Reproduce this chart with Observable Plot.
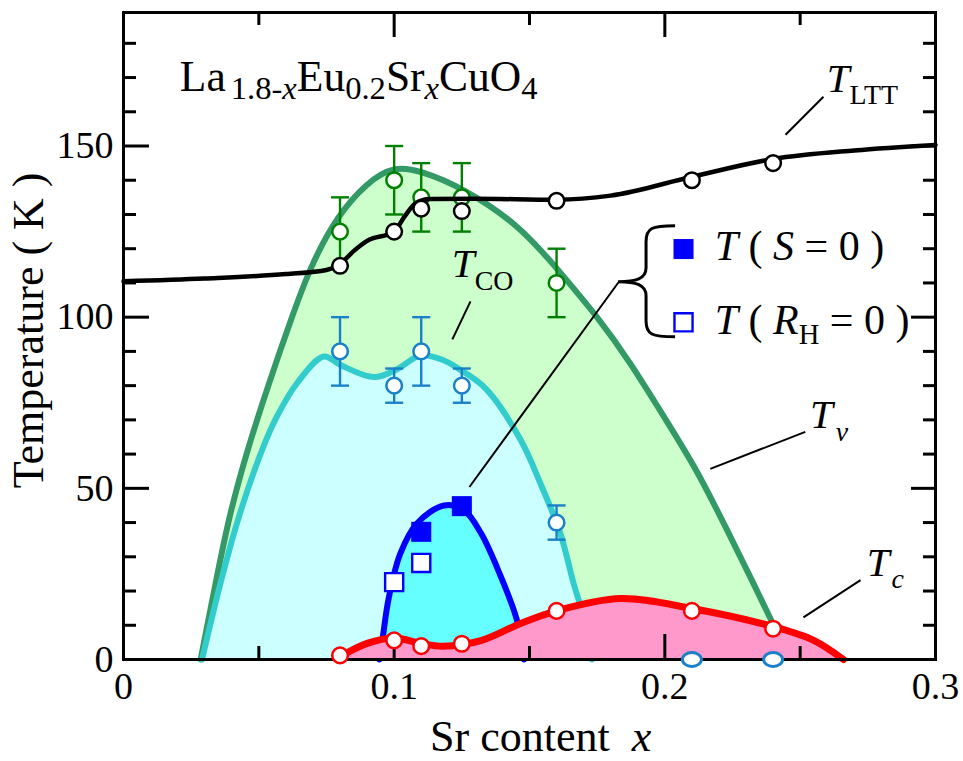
<!DOCTYPE html>
<html><head><meta charset="utf-8">
<script src="https://cdn.jsdelivr.net/npm/d3@7"></script>
<script src="https://cdn.jsdelivr.net/npm/@observablehq/plot@0.6"></script>
<style>body{margin:0;background:#fff;} svg{display:block}</style>
</head><body><div id="chart"></div>
<script>
// ---------- data ----------
// T_LTT (black open circles + black curve)
const lttX = [0.08, 0.10, 0.11, 0.125, 0.16, 0.21, 0.24];
const lttT = [115, 125, 131.7, 131, 134, 140, 145];
const lttCurveX = [0, 0.03, 0.06, 0.075, 0.08, 0.085, 0.09, 0.1, 0.104, 0.108, 0.113, 0.13, 0.16, 0.18, 0.21, 0.24, 0.27, 0.3];
const lttCurveT = [110.5, 111.3, 112.6, 113.8, 115.5, 119.3, 122.3, 125, 129.6, 133.3, 134.5, 134.6, 134.3, 135.5, 141, 146.2, 148.7, 150.3];

// T_nu (green open circles with error bars + dark green dome)
const nuX = [0.08, 0.10, 0.11, 0.125, 0.16];
const nuT = [125, 140, 135, 135, 110];
const nuErr = [10, 10, 10, 10, 10];
const nuCurveX = [0.0285, 0.034, 0.0389, 0.0457, 0.0537, 0.0623, 0.0691, 0.0789, 0.090, 0.1, 0.1097, 0.125, 0.1467, 0.1614, 0.175, 0.1873, 0.1996, 0.2119, 0.223, 0.2328, 0.2405];
const nuCurveT = [0, 22.2, 41.6, 61.2, 80.7, 100.3, 114.9, 129.6, 139.4, 144.2, 142.8, 138, 126.7, 113, 100.3, 86.7, 71, 55.4, 37.8, 22.2, 9.5];

// T_CO (blue open circles with error bars + turquoise dome)
const coX = [0.08, 0.10, 0.11, 0.125, 0.16];
const coT = [90, 80, 90, 80, 40];
const coErr = [10, 5, 10, 5, 5];
const coCurveX = [0.029, 0.0358, 0.0426, 0.0512, 0.0567, 0.0641, 0.074, 0.0802, 0.0925, 0.1011, 0.1097, 0.118, 0.1245, 0.134, 0.1467, 0.154, 0.1614, 0.1663, 0.170, 0.1731];
const coCurveT = [0, 22.2, 41.6, 61.2, 71, 80.7, 88.5, 86, 82.5, 84.8, 88.8, 87.5, 84.6, 79, 64.2, 51.5, 36.8, 22.2, 12.4, 0];

// T(S=0) filled squares, T(R_H=0) open squares, blue dome
const s0X = [0.11, 0.125];
const s0T = [37.3, 44.8];
const rh0X = [0.10, 0.11];
const rh0T = [22.6, 28.2];
const sCurveX = [0.0945, 0.0958, 0.098, 0.1023, 0.1085, 0.1184, 0.1257, 0.132, 0.139, 0.1454, 0.148];
const sCurveT = [0, 6.5, 18, 31, 39.8, 45, 43.7, 37, 25, 11.4, 0];

// T_c (red open circles + red curve), zero-Tc points (blue open ovals)
const tcX = [0.08, 0.10, 0.11, 0.125, 0.16, 0.21, 0.24];
const tcT = [1.2, 5.6, 3.9, 4.6, 14.2, 14.2, 9.0];
const tc0X = [0.21, 0.24];
const tc0T = [0, 0];
const tcCurveX = [0.08, 0.09, 0.1, 0.11, 0.118, 0.132, 0.1467, 0.16, 0.1836, 0.21, 0.24, 0.255, 0.266];
const tcCurveT = [0.8, 4.7, 6.3, 4.7, 3.9, 5.5, 10.5, 14.2, 17.8, 14.9, 9.6, 5.6, 0];

// axes
const xMajor = [0, 0.1, 0.2, 0.3];
const xMinor = [0.05, 0.15, 0.25];
const yMajor = [0, 50, 100, 150];
const yMinor = [10, 20, 30, 40, 60, 70, 80, 90, 110, 120, 130, 140, 160, 170, 180];
const xTickLabels = ["0", "0.1", "0.2", "0.3"];
const yTickLabels = ["0", "50", "100", "150"];

// ---------- helpers ----------
const zip = (xs, ys, extra = {}) => xs.map((x, i) => {
  const o = {x, y: ys[i]};
  for (const k in extra) o[k] = extra[k][i];
  return o;
});
const lttPts = zip(lttX, lttT), lttLine = zip(lttCurveX, lttCurveT);
const nuPts = zip(nuX, nuT, {e: nuErr}), nuLine = zip(nuCurveX, nuCurveT);
const coPts = zip(coX, coT, {e: coErr}), coLine = zip(coCurveX, coCurveT);
const s0Pts = zip(s0X, s0T), rh0Pts = zip(rh0X, rh0T), sLine = zip(sCurveX, sCurveT);
const tcPts = zip(tcX, tcT), tc0Pts = zip(tc0X, tc0T), tcLine = zip(tcCurveX, tcCurveT);
const xLab = xMajor.map((v, i) => ({v, t: xTickLabels[i]}));
const yLab = yMajor.map((v, i) => ({v, t: yTickLabels[i]}));

const capSymbol = {draw(ctx, size) { const w = Math.sqrt(size / Math.PI); ctx.moveTo(-w, 0); ctx.lineTo(w, 0); }};
const ovalSymbol = {draw(ctx, size) {
  const r = Math.sqrt(size / Math.PI), rx = r * 1.3, ry = r * 0.95, k = 0.5523;
  ctx.moveTo(rx, 0);
  ctx.bezierCurveTo(rx, ry * k, rx * k, ry, 0, ry);
  ctx.bezierCurveTo(-rx * k, ry, -rx, ry * k, -rx, 0);
  ctx.bezierCurveTo(-rx, -ry * k, -rx * k, -ry, 0, -ry);
  ctx.bezierCurveTo(rx * k, -ry, rx, -ry * k, rx, 0);
  ctx.closePath();
}};

const FONT = "Liberation Serif, Times New Roman, serif";
const frameH = 761 - 12 - 102, frameW = 963 - 123 - 28;

const leaders = [
  {x1: 0.2586, y1: 164.4, x2: 0.2446, y2: 153.3},   // T_LTT
  {x1: 0.1282, y1: 104.6, x2: 0.1215, y2: 93.5},    // T_CO
  {x1: 0.2519, y1: 66.5,  x2: 0.2168, y2: 55.7},    // T_nu
  {x1: 0.2723, y1: 23.2,  x2: 0.2512, y2: 12.3},    // T_c
  {x1: 0.1829, y1: 110.2, x2: 0.1278, y2: 50.4}     // legend brace
];
const legendS0 = [{x: 0.2069, y: 119.9}];
const legendRH = [{x: 0.2069, y: 98.5}];

const dotStyle = {r: 7.8, fill: "white", strokeWidth: 2.5};
const CO_BLUE = "#1a80c8";

const plot = Plot.plot({
  width: 963, height: 761,
  marginLeft: 123, marginRight: 28, marginTop: 12, marginBottom: 102,
  x: {domain: [0, 0.3], axis: null},
  y: {domain: [0, 189], axis: null},
  style: {fontFamily: FONT, fontSize: "38px", background: "white", color: "black"},
  marks: [
    Plot.areaY(nuLine, {x: "x", y: "y", fill: "#ccffcc", curve: "basis"}),
    Plot.line(nuLine, {x: "x", y: "y", stroke: "#339966", strokeWidth: 6, curve: "basis"}),
    Plot.areaY(coLine, {x: "x", y: "y", fill: "#ccffff", curve: "catmull-rom"}),
    Plot.line(coLine, {x: "x", y: "y", stroke: "#33cccc", strokeWidth: 6, curve: "catmull-rom"}),
    Plot.areaY(sLine, {x: "x", y: "y", fill: "#66ffff", curve: "catmull-rom"}),
    Plot.line(sLine, {x: "x", y: "y", stroke: "#0000ff", strokeWidth: 6, curve: "catmull-rom"}),
    Plot.areaY(tcLine, {x: "x", y: "y", fill: "#ff99cc", curve: "catmull-rom"}),
    Plot.line(tcLine, {x: "x", y: "y", stroke: "#ff0000", strokeWidth: 7, curve: "catmull-rom"}),
    // axes ticks (inward)
    Plot.tickX(xMajor, {x: d => d, insetTop: frameH - 25, stroke: "black", strokeWidth: 3}),
    Plot.tickX(xMajor, {x: d => d, insetBottom: frameH - 25, stroke: "black", strokeWidth: 3}),
    Plot.tickX(xMinor, {x: d => d, insetTop: frameH - 13, stroke: "black", strokeWidth: 3}),
    Plot.tickX(xMinor, {x: d => d, insetBottom: frameH - 13, stroke: "black", strokeWidth: 3}),
    Plot.tickY(yMajor, {y: d => d, insetRight: frameW - 26, stroke: "black", strokeWidth: 3}),
    Plot.tickY(yMajor, {y: d => d, insetLeft: frameW - 24, stroke: "black", strokeWidth: 3}),
    Plot.tickY(yMinor, {y: d => d, insetRight: frameW - 13, stroke: "black", strokeWidth: 3}),
    Plot.tickY(yMinor, {y: d => d, insetLeft: frameW - 12, stroke: "black", strokeWidth: 3}),
    // tick labels
    Plot.text(xLab, {x: "v", frameAnchor: "bottom", text: "t", lineAnchor: "top", dy: 13, fontSize: 38, fontFamily: FONT, fill: "black"}),
    Plot.text(yLab, {y: "v", frameAnchor: "left", text: "t", textAnchor: "end", dx: -10, fontSize: 38, fontFamily: FONT, fill: "black"}),
    Plot.frame({stroke: "black", strokeWidth: 3}),
    // leader lines
    Plot.link(leaders, {x1: "x1", y1: "y1", x2: "x2", y2: "y2", stroke: "black", strokeWidth: 2}),
    // T_nu points with error bars
    Plot.ruleX(nuPts, {x: "x", y1: d => d.y - d.e, y2: d => d.y + d.e, stroke: "#008000", strokeWidth: 2.4}),
    Plot.dot(nuPts, {x: "x", y: d => d.y - d.e, symbol: capSymbol, r: 9, stroke: "#008000", strokeWidth: 2.4, fill: "none"}),
    Plot.dot(nuPts, {x: "x", y: d => d.y + d.e, symbol: capSymbol, r: 9, stroke: "#008000", strokeWidth: 2.4, fill: "none"}),
    Plot.dot(nuPts, {x: "x", y: "y", ...dotStyle, stroke: "#008000"}),
    // T_CO points with error bars
    Plot.ruleX(coPts, {x: "x", y1: d => d.y - d.e, y2: d => d.y + d.e, stroke: CO_BLUE, strokeWidth: 2.4}),
    Plot.dot(coPts, {x: "x", y: d => d.y - d.e, symbol: capSymbol, r: 9, stroke: CO_BLUE, strokeWidth: 2.4, fill: "none"}),
    Plot.dot(coPts, {x: "x", y: d => d.y + d.e, symbol: capSymbol, r: 9, stroke: CO_BLUE, strokeWidth: 2.4, fill: "none"}),
    Plot.dot(coPts, {x: "x", y: "y", ...dotStyle, stroke: CO_BLUE}),
    // T_LTT
    Plot.line(lttLine, {x: "x", y: "y", stroke: "black", strokeWidth: 4.5, curve: "monotone-x"}),
    Plot.dot(lttPts, {x: "x", y: "y", ...dotStyle, stroke: "black"}),
    // T(S=0), T(R_H=0)
    Plot.dot(s0Pts, {x: "x", y: "y", symbol: "square", r: 11.3, fill: "#0000ff", stroke: "none"}),
    Plot.dot(rh0Pts, {x: "x", y: "y", symbol: "square", r: 10.2, fill: "white", stroke: "#0000ff", strokeWidth: 2.4}),
    Plot.dot(legendS0, {x: "x", y: "y", symbol: "square", r: 11.3, fill: "#0000ff", stroke: "none"}),
    Plot.dot(legendRH, {x: "x", y: "y", symbol: "square", r: 10.2, fill: "white", stroke: "#0000ff", strokeWidth: 2.4}),
    // T_c
    Plot.dot(tcPts, {x: "x", y: "y", ...dotStyle, stroke: "#ff0000"}),
    Plot.dot(tc0Pts, {x: "x", y: "y", symbol: ovalSymbol, r: 7.3, fill: "white", stroke: CO_BLUE, strokeWidth: 3})
  ]
});

const svg = d3.select(plot);
const X = plot.scale("x"), Y = plot.scale("y");
const px = v => X.apply(v), py = v => Y.apply(v);

function label(xd, yd, parts, size, opt = {}) {
  const subScale = opt.subScale ?? 0.68, subDy = opt.subDy ?? 0.3 * size;
  const t = svg.append("text")
    .attr("x", px(xd)).attr("y", py(yd))
    .attr("font-family", FONT).attr("font-size", size).attr("fill", "black")
    .attr("text-anchor", opt.anchor || "start").style("white-space", "pre");
  let shift = 0;
  for (const p of parts) {
    const ts = t.append("tspan").text(p.t);
    if (p.i) ts.attr("font-style", "italic");
    const target = p.sub ? subDy : 0;
    if (target !== shift) { ts.attr("dy", target - shift); shift = target; }
    if (p.sub) ts.attr("font-size", size * subScale);
    if (p.dx) ts.attr("dx", p.dx);
  }
  return t;
}

// compound title
label(0.021, 165.9, [
  {t: "La"}, {t: "1.8-", sub: true, dx: 5}, {t: "x", sub: true, i: true},
  {t: "Eu"}, {t: "0.2", sub: true}, {t: "Sr"}, {t: "x", sub: true, i: true},
  {t: "CuO"}, {t: "4", sub: true}
], 43.5, {subScale: 0.75, subDy: 8});

// curve labels
label(0.2600, 165.5, [{t: "T", i: true}, {t: "LTT", sub: true}], 41, {subDy: 12});
label(0.1215, 111.5, [{t: "T", i: true}, {t: "CO", sub: true}], 41, {subDy: 13});
label(0.2538, 67.5, [{t: "T", i: true}, {t: "ν", sub: true, i: true, dx: 3}], 41, {subDy: 13});
label(0.2748, 24.2, [{t: "T", i: true}, {t: "c", sub: true, i: true, dx: 2}], 41, {subDy: 12});

// legend texts
label(0.2186, 116.5, [{t: "T", i: true}, {t: " ( "}, {t: "S", i: true}, {t: " = 0 )"}], 42);
label(0.2186, 95.0, [{t: "T", i: true}, {t: " ( "}, {t: "R", i: true}, {t: "H", sub: true}, {t: " = 0 )"}], 42, {subDy: 10});

// brace
{
  const tx = px(0.1829), ty = py(110.2);
  const top = ty - 56, bot = ty + 55, stem = tx + 28, end = tx + 57;
  const d = `M${end},${top} C${stem + 6},${top} ${stem},${top + 2} ${stem},${top + 16} L${stem},${ty - 14}
    C${stem},${ty - 3} ${stem - 10},${ty} ${tx},${ty} C${stem - 10},${ty} ${stem},${ty + 3} ${stem},${ty + 14}
    L${stem},${bot - 16} C${stem},${bot - 2} ${stem + 6},${bot} ${end},${bot}`;
  svg.append("path").attr("d", d).attr("fill", "none").attr("stroke", "black").attr("stroke-width", 3);
}

// axis titles
svg.append("text").attr("x", px(0.1543)).attr("y", 751)
  .attr("font-family", FONT).attr("font-size", 44).attr("text-anchor", "middle").style("white-space", "pre")
  .call(t => { t.append("tspan").text("Sr content  "); t.append("tspan").attr("font-style", "italic").text("x"); });
svg.append("text").attr("transform", `translate(43,${py(96)}) rotate(-90)`)
  .attr("font-family", FONT).attr("font-size", 44).attr("text-anchor", "middle").style("white-space", "pre")
  .text("Temperature ( K )");

document.getElementById("chart").appendChild(plot);
</script></body></html>
